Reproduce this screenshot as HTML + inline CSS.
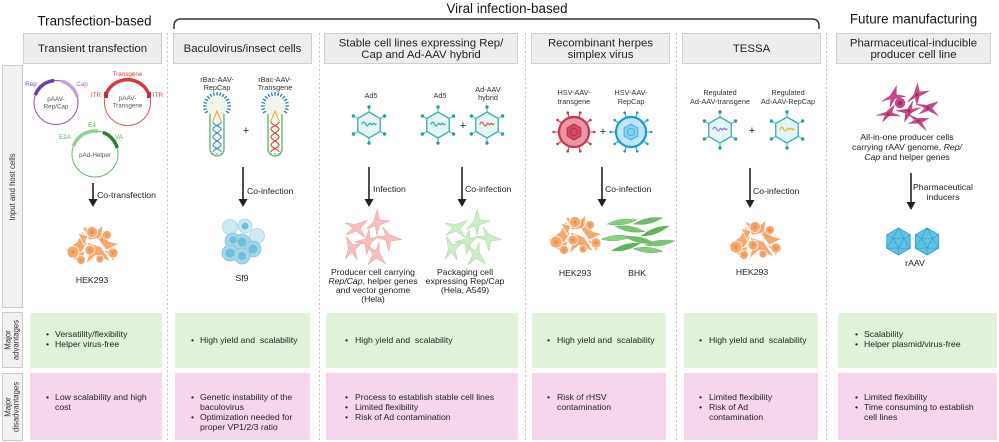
<!DOCTYPE html>
<html><head><meta charset="utf-8"><style>
html,body{margin:0;padding:0;background:#fff;}
svg{display:block;}
text{font-family:"Liberation Sans",Arial,sans-serif;fill:#222;}
.t{font-size:13.4px;fill:#151515;}
.h{font-size:11.4px;text-anchor:middle;fill:#222;}
.b{font-size:8.7px;fill:#222;}
.c{font-size:8.7px;text-anchor:middle;}
.a{font-size:8.7px;}
.v{font-size:7.3px;text-anchor:middle;fill:#333;}
.p{font-size:6.3px;text-anchor:middle;}
.r{font-size:7.8px;text-anchor:middle;fill:#333;}
.pl{font-size:11px;text-anchor:middle;fill:#222;}
</style></head><body>
<svg width="999" height="442" viewBox="0 0 999 442" xmlns="http://www.w3.org/2000/svg">
<defs>
 <g id="adhex">
  <g stroke="#3aaeae" stroke-width="1">
   <line x1="0" y1="-13" x2="0" y2="-18"/><line x1="11.26" y1="-6.5" x2="15.6" y2="-9"/>
   <line x1="11.26" y1="6.5" x2="15.6" y2="9"/><line x1="0" y1="13" x2="0" y2="18"/>
   <line x1="-11.26" y1="6.5" x2="-15.6" y2="9"/><line x1="-11.26" y1="-6.5" x2="-15.6" y2="-9"/>
  </g>
  <g fill="#2a9e9e">
   <circle cx="0" cy="-18" r="1.7"/><circle cx="15.6" cy="-9" r="1.7"/><circle cx="15.6" cy="9" r="1.7"/>
   <circle cx="0" cy="18" r="1.7"/><circle cx="-15.6" cy="9" r="1.7"/><circle cx="-15.6" cy="-9" r="1.7"/>
  </g>
  <polygon points="0,-13 11.26,-6.5 11.26,6.5 0,13 -11.26,6.5 -11.26,-6.5" fill="#e3f6f4" stroke="#3aaeae" stroke-width="1.3"/>
 </g>
 <path id="sq" d="M-7,-1 c1.2,-2.5 2.3,-2.5 3.5,0 s2.3,2.5 3.5,0 s2.3,2.5 3.5,0 s2.3,2.5 3.5,0" fill="none" stroke-width="1.3" stroke-linecap="round"/>
 <path id="fc" d="M-12,-1 L-2,-3 L8,-11 L4,-1 L12,6 L1,3 L-7,10 L-3,1 Z"/>
 <path id="sp" d="M-15,0 Q-5,-3 0,-2.6 Q5,-3 15,0 Q5,3 0,2.6 Q-5,3 -15,0 Z"/>
 <g id="hek">
  <g fill="#f5a76e" stroke="#fff" stroke-width="0.7">
   <path d="M-27,5 L-15,-3 L-9,-14 L-5,-2 L-13,11 Z"/>
   <path d="M-10,-19 L3,-13 L11,-20 L9,-7 L-3,-5 Z"/>
   <path d="M6,-6 L17,-15 L16,-4 L27,-1 L14,5 Z"/>
   <path d="M-5,-3 L9,2 L19,17 L4,10 L-6,19 L-2,6 Z"/>
   <path d="M12,5 L26,7 L21,16 Z"/>
   <path d="M-22,11 L-7,6 L-11,19 Z"/>
   <path d="M-14,-12 L-4,-9 L-8,0 Z"/>
   <circle cx="-19" cy="7" r="6"/><circle cx="0" cy="-13" r="5.5"/><circle cx="15" cy="-10" r="4.5"/>
   <circle cx="-2" cy="5" r="5"/><circle cx="21" cy="8" r="5"/><circle cx="-11" cy="15" r="4.5"/>
   <circle cx="8" cy="14" r="4"/>
  </g>
  <g fill="#ea8f55">
   <circle cx="-19" cy="7" r="2"/><circle cx="0" cy="-13" r="1.8"/><circle cx="15" cy="-10" r="1.6"/>
   <circle cx="-2" cy="5" r="1.8"/><circle cx="21" cy="8" r="1.7"/><circle cx="-11" cy="15" r="1.5"/>
   <circle cx="8" cy="14" r="1.4"/>
  </g>
 </g>
 <g id="bac">
  <rect x="-7" y="3" width="14" height="47" rx="7" fill="#f4f8ee" stroke="#59b56a" stroke-width="1.3"/>
  <g stroke="#2f80b8" stroke-width="1.3">
   <line x1="-8.66" y1="5" x2="-12.12" y2="7"/><line x1="-9.66" y1="2.59" x2="-13.52" y2="3.62"/>
   <line x1="-10" y1="0" x2="-14" y2="0"/><line x1="-9.66" y1="-2.59" x2="-13.52" y2="-3.62"/>
   <line x1="-8.66" y1="-5" x2="-12.12" y2="-7"/><line x1="-7.07" y1="-7.07" x2="-9.9" y2="-9.9"/>
   <line x1="-5" y1="-8.66" x2="-7" y2="-12.12"/><line x1="-2.59" y1="-9.66" x2="-3.62" y2="-13.52"/>
   <line x1="0" y1="-10" x2="0" y2="-14"/><line x1="2.59" y1="-9.66" x2="3.62" y2="-13.52"/>
   <line x1="5" y1="-8.66" x2="7" y2="-12.12"/><line x1="7.07" y1="-7.07" x2="9.9" y2="-9.9"/>
   <line x1="8.66" y1="-5" x2="12.12" y2="-7"/><line x1="9.66" y1="-2.59" x2="13.52" y2="-3.62"/>
   <line x1="10" y1="0" x2="14" y2="0"/><line x1="9.66" y1="2.59" x2="13.52" y2="3.62"/>
   <line x1="8.66" y1="5" x2="12.12" y2="7"/>
  </g>
  <circle cx="0" cy="0" r="10.5" fill="#f1f6e9"/>
  <path d="M-4.5,16 L0,5 L4.5,16" fill="none" stroke="#f2a33a" stroke-width="1"/>
  <path d="M-4,47 L-4,49 M0,47 L0,49 M4,47 L4,49" stroke="#3bb0b0" stroke-width="1"/>
 </g>
 <g id="hx" fill="none" stroke-width="1.1">
  <path d="M-4,16 C-4,19 4,20 4,23 S-4,28 -4,31 S4,36 4,39 S-4,43 -4,46"/>
  <path d="M4,16 C4,19 -4,20 -4,23 S4,28 4,31 S-4,36 -4,39 S4,43 4,46"/>
 </g>
 <path id="hsvsp" fill="none" stroke-width="1.1" d="M15.5,0L20,0M12.54,9.11L16.18,11.76M4.79,14.74L6.18,19.02M-4.79,14.74L-6.18,19.02M-12.54,9.11L-16.18,11.76M-15.5,0L-20,0M-12.54,-9.11L-16.18,-11.76M-4.79,-14.74L-6.18,-19.02M4.79,-14.74L6.18,-19.02M12.54,-9.11L16.18,-11.76"/>
 <g id="hsvdots">
  <circle cx="20.3" cy="0" r="1.3"/><circle cx="16.4" cy="11.9" r="1.3"/><circle cx="6.3" cy="19.3" r="1.3"/>
  <circle cx="-6.3" cy="19.3" r="1.3"/><circle cx="-16.4" cy="11.9" r="1.3"/><circle cx="-20.3" cy="0" r="1.3"/>
  <circle cx="-16.4" cy="-11.9" r="1.3"/><circle cx="-6.3" cy="-19.3" r="1.3"/><circle cx="6.3" cy="-19.3" r="1.3"/>
  <circle cx="16.4" cy="-11.9" r="1.3"/>
 </g>
 <g id="aav">
  <polygon points="0,-13.5 11.69,-6.75 11.69,6.75 0,13.5 -11.69,6.75 -11.69,-6.75" fill="#5fc2e8" stroke="#3d9fc9" stroke-width="0.9"/>
  <g fill="none" stroke="#3a93bb" stroke-width="0.6">
   <polygon points="-5.5,-3 5.5,-3 0,6.5"/>
   <path d="M-5.5,-3L0,-13.5M5.5,-3L0,-13.5M5.5,-3L11.69,-6.75M5.5,-3L11.69,6.75M0,6.5L11.69,6.75M0,6.5L0,13.5M0,6.5L-11.69,6.75M-5.5,-3L-11.69,6.75M-5.5,-3L-11.69,-6.75"/>
  </g>
 </g>
</defs>

<rect width="999" height="442" fill="#fff"/>

<!-- dashed separators -->
<g stroke="#c2c2c2" stroke-width="1" stroke-dasharray="2,2.5">
 <line x1="167.5" y1="33" x2="167.5" y2="442"/>
 <line x1="319.5" y1="33" x2="319.5" y2="442"/>
 <line x1="525.5" y1="33" x2="525.5" y2="442"/>
 <line x1="676.5" y1="33" x2="676.5" y2="442"/>
 <line x1="826.5" y1="33" x2="826.5" y2="442"/>
</g>

<!-- top titles -->
<text class="t" x="94.5" y="25.5" text-anchor="middle">Transfection-based</text>
<text class="t" x="507" y="13" text-anchor="middle">Viral infection-based</text>
<text class="t" x="913.5" y="23.5" text-anchor="middle">Future manufacturing</text>
<path d="M174,29 L174,26 Q174,19 181,19 L812,19 Q819,19 819,26 L819,29" fill="none" stroke="#333" stroke-width="1.5"/>

<!-- header boxes -->
<g fill="#ededed" stroke="#cfcfcf" stroke-width="1">
 <rect x="23.5" y="33.5" width="138" height="30"/>
 <rect x="173.5" y="33.5" width="138" height="30"/>
 <rect x="324.5" y="33.5" width="193" height="30"/>
 <rect x="531.5" y="33.5" width="138" height="30"/>
 <rect x="682.5" y="33.5" width="138" height="30"/>
 <rect x="836.5" y="33.5" width="154" height="30"/>
</g>
<text class="h" x="92.5" y="52">Transient transfection</text>
<text class="h" x="242.5" y="52">Baculovirus/insect cells</text>
<text class="h" x="421" y="46.5">Stable cell lines expressing Rep/</text>
<text class="h" x="421" y="58">Cap and Ad-AAV hybrid</text>
<text class="h" x="600.5" y="46.5">Recombinant herpes</text>
<text class="h" x="600.5" y="58">simplex virus</text>
<text class="h" x="751.5" y="52">TESSA</text>
<text class="h" x="913.5" y="46.5">Pharmaceutical-inducible</text>
<text class="h" x="913.5" y="58">producer cell line</text>

<!-- left row labels -->
<g fill="#f1f1f1" stroke="#cbcbcb" stroke-width="1">
 <rect x="2.5" y="65.5" width="20" height="242"/>
 <rect x="2.5" y="312.5" width="20" height="55"/>
 <rect x="2.5" y="373.5" width="20" height="67"/>
</g>
<text class="r" transform="translate(15,187) rotate(-90)">Input and host cells</text>
<text class="r" transform="translate(10.5,340) rotate(-90)">Major</text>
<text class="r" transform="translate(18.5,340) rotate(-90)">advantages</text>
<text class="r" transform="translate(10.5,407) rotate(-90)">Major</text>
<text class="r" transform="translate(18.5,407) rotate(-90)">disadvantages</text>

<!-- advantage / disadvantage boxes -->
<g fill="#e0f3da">
 <rect x="30" y="313" width="132" height="55"/>
 <rect x="175" y="313" width="135" height="55"/>
 <rect x="326" y="313" width="192" height="55"/>
 <rect x="532" y="313" width="134" height="55"/>
 <rect x="684" y="313" width="134" height="55"/>
 <rect x="838" y="313" width="159" height="55"/>
</g>
<g fill="#f6d6ec">
 <rect x="30" y="373" width="132" height="67"/>
 <rect x="175" y="373" width="135" height="67"/>
 <rect x="326" y="373" width="192" height="67"/>
 <rect x="532" y="373" width="134" height="67"/>
 <rect x="684" y="373" width="134" height="67"/>
 <rect x="838" y="373" width="159" height="67"/>
</g>
<g class="b">
 <text class="b" x="46" y="337">•</text><text class="b" x="55" y="337">Versatility/flexibility</text>
 <text class="b" x="46" y="347">•</text><text class="b" x="55" y="347">Helper virus-free</text>
 <text class="b" x="46" y="400">•</text><text class="b" x="55" y="400">Low scalability and high</text>
 <text class="b" x="55" y="410">cost</text>

 <text class="b" x="191" y="343">•</text><text class="b" x="200" y="343">High yield and&#160; scalability</text>
 <text class="b" x="191" y="400">•</text><text class="b" x="200" y="400">Genetic instability of the</text>
 <text class="b" x="200" y="410">baculovirus</text>
 <text class="b" x="191" y="420">•</text><text class="b" x="200" y="420">Optimization needed for</text>
 <text class="b" x="200" y="430">proper VP1/2/3 ratio</text>

 <text class="b" x="345" y="343">•</text><text class="b" x="355" y="343">High yield and&#160; scalability</text>
 <text class="b" x="345" y="400">•</text><text class="b" x="355" y="400">Process to establish stable cell lines</text>
 <text class="b" x="345" y="410">•</text><text class="b" x="355" y="410">Limited flexibility</text>
 <text class="b" x="345" y="420">•</text><text class="b" x="355" y="420">Risk of Ad contamination</text>

 <text class="b" x="547" y="343">•</text><text class="b" x="557" y="343">High yield and&#160; scalability</text>
 <text class="b" x="547" y="400">•</text><text class="b" x="557" y="400">Risk of rHSV</text>
 <text class="b" x="557" y="410">contamination</text>

 <text class="b" x="699" y="343">•</text><text class="b" x="709" y="343">High yield and&#160; scalability</text>
 <text class="b" x="699" y="400">•</text><text class="b" x="709" y="400">Limited flexibility</text>
 <text class="b" x="699" y="410">•</text><text class="b" x="709" y="410">Risk of Ad</text>
 <text class="b" x="709" y="420">contamination</text>

 <text class="b" x="855" y="337">•</text><text class="b" x="864" y="337">Scalability</text>
 <text class="b" x="855" y="347">•</text><text class="b" x="864" y="347">Helper plasmid/virus-free</text>
 <text class="b" x="855" y="400">•</text><text class="b" x="864" y="400">Limited flexibility</text>
 <text class="b" x="855" y="410">•</text><text class="b" x="864" y="410">Time consuming to establish</text>
 <text class="b" x="864" y="420">cell lines</text>
</g>

<!-- ========== Column 1: plasmids ========== -->
<circle cx="56" cy="102.5" r="22" fill="none" stroke="#8a5aa8" stroke-width="1"/>
<path d="M35.3,95 A22,22 0 0 1 54.1,80.6" fill="none" stroke="#6b3fa0" stroke-width="3.5"/>
<path d="M61.7,81.2 A22,22 0 0 1 77.2,96.8" fill="none" stroke="#c9a0dc" stroke-width="3.5"/>
<text class="p" x="31" y="86" fill="#7b4ca0" style="fill:#7b4ca0">Rep</text>
<text class="p" x="82" y="86" style="fill:#9a6ab2">Cap</text>
<text class="p" x="56" y="101" style="fill:#555">pAAV-</text>
<text class="p" x="56" y="108.5" style="fill:#555">Rep/Cap</text>

<circle cx="127.5" cy="102.5" r="23" fill="none" stroke="#d65a5a" stroke-width="1"/>
<path d="M106.7,92.8 A23,23 0 0 1 148.3,92.8" fill="none" stroke="#d43c3c" stroke-width="3.5"/>
<rect x="104" y="92" width="4" height="6" fill="#c23030"/>
<rect x="147" y="92" width="4" height="6" fill="#c23030"/>
<text class="p" x="127.5" y="76" style="fill:#d43c3c">Transgene</text>
<text class="p" x="96" y="97" style="fill:#d43c3c">ITR</text>
<text class="p" x="158" y="97" style="fill:#d43c3c">ITR</text>
<text class="p" x="127.5" y="100" style="fill:#555">pAAV-</text>
<text class="p" x="127.5" y="107.5" style="fill:#555">Transgene</text>

<circle cx="95" cy="154" r="23" fill="none" stroke="#6bb86b" stroke-width="1"/>
<path d="M73.4,146.1 A23,23 0 0 1 98,131.2" fill="none" stroke="#8fd08f" stroke-width="3.5"/>
<path d="M102.9,132.4 A23,23 0 0 1 117.2,148" fill="none" stroke="#2e7d32" stroke-width="3.5"/>
<text class="p" x="92" y="127" style="fill:#4caf50">E4</text>
<text class="p" x="65" y="139" style="fill:#4caf50">E2A</text>
<text class="p" x="119" y="139" style="fill:#4caf50">VA</text>
<text class="p" x="95" y="157" style="fill:#555">pAd-Helper</text>

<!-- arrows -->
<g stroke="#222" stroke-width="1.6">
 <line x1="93" y1="183" x2="93" y2="200"/>
 <line x1="243" y1="167" x2="243" y2="200"/>
 <line x1="369" y1="167" x2="369" y2="200"/>
 <line x1="462" y1="167" x2="462" y2="200"/>
 <line x1="602" y1="167" x2="602" y2="200"/>
 <line x1="750" y1="168" x2="750" y2="201"/>
 <line x1="911" y1="173" x2="911" y2="203"/>
</g>
<g fill="#222">
 <polygon points="88.5,199 97.5,199 93,207"/>
 <polygon points="238.5,199 247.5,199 243,207"/>
 <polygon points="364.5,199 373.5,199 369,207"/>
 <polygon points="457.5,199 466.5,199 462,207"/>
 <polygon points="597.5,199 606.5,199 602,207"/>
 <polygon points="745.5,200 754.5,200 750,208"/>
 <polygon points="906.5,202 915.5,202 911,210"/>
</g>
<text class="a" x="97" y="198">Co-transfection</text>
<text class="a" x="247" y="194">Co-infection</text>
<text class="a" x="373" y="192">Infection</text>
<text class="a" x="465" y="192">Co-infection</text>
<text class="a" x="605" y="192">Co-infection</text>
<text class="a" x="753" y="194">Co-infection</text>
<text class="a" x="913" y="190">Pharmaceutical</text>
<text class="a" x="943" y="200" text-anchor="middle">inducers</text>

<use href="#hek" x="92" y="245"/>
<text class="c" x="92" y="283">HEK293</text>

<!-- ========== Column 2: baculovirus ========== -->
<text class="v" x="217" y="82">rBac-AAV-</text>
<text class="v" x="217" y="90">RepCap</text>
<text class="v" x="275" y="82">rBac-AAV-</text>
<text class="v" x="275" y="90">Transgene</text>
<use href="#bac" x="217" y="106"/>
<use href="#hx" x="217" y="106" stroke="#3a8fc9"/>
<use href="#bac" x="275" y="106"/>
<use href="#hx" x="275" y="106" stroke="#d64545"/>
<text class="pl" x="246" y="134">+</text>

<g>
 <g fill="#cfe9f3" stroke="#a6d4e7" stroke-width="0.8">
  <circle cx="230" cy="227" r="7.5"/><circle cx="257" cy="236" r="7.5"/><circle cx="245" cy="226" r="7"/>
 </g>
 <g fill="#a4d5e8" stroke="#86c5de" stroke-width="0.8">
  <circle cx="233" cy="241" r="8"/><circle cx="242" cy="242" r="8"/><circle cx="230" cy="253" r="8"/>
  <circle cx="253" cy="249" r="8"/><circle cx="242" cy="256" r="8"/>
 </g>
 <g fill="#6fbfdb">
  <circle cx="242" cy="242" r="4.5"/><circle cx="230" cy="253" r="4.5"/><circle cx="253" cy="249" r="4.5"/>
  <circle cx="242" cy="256" r="4"/><circle cx="233" cy="240" r="3.5"/><circle cx="245" cy="226" r="3.5"/>
 </g>
</g>
<text class="c" x="242" y="281">Sf9</text>

<!-- ========== Column 3 ========== -->
<text class="v" x="371" y="98">Ad5</text>
<text class="v" x="440" y="98">Ad5</text>
<text class="v" x="488" y="92">Ad-AAV</text>
<text class="v" x="488" y="100">hybrid</text>
<use href="#adhex" x="369" y="125"/>
<use href="#sq" x="369" y="125" stroke="#3aaeae"/>
<use href="#adhex" x="438" y="125"/>
<use href="#sq" x="438" y="125" stroke="#3aaeae"/>
<use href="#adhex" x="487" y="125"/>
<use href="#sq" x="487" y="125" stroke="#e0605a"/>
<text class="pl" x="463" y="129">+</text>

<g fill="#f5b9ba" stroke="#e9a0a3" stroke-width="0.6" opacity="0.9">
 <use href="#fc" transform="translate(356,228) rotate(20)"/>
 <use href="#fc" transform="translate(377,223) rotate(-35)"/>
 <use href="#fc" transform="translate(388,238) rotate(60)"/>
 <use href="#fc" transform="translate(368,241) rotate(150)"/>
 <use href="#fc" transform="translate(352,249) rotate(-60)"/>
 <use href="#fc" transform="translate(376,254) rotate(100)"/>
</g>
<g fill="#c8e9c1" stroke="#a7d79f" stroke-width="0.6" opacity="0.9">
 <use href="#fc" transform="translate(456,228) rotate(20)"/>
 <use href="#fc" transform="translate(477,223) rotate(-35)"/>
 <use href="#fc" transform="translate(488,238) rotate(60)"/>
 <use href="#fc" transform="translate(468,241) rotate(150)"/>
 <use href="#fc" transform="translate(452,249) rotate(-60)"/>
 <use href="#fc" transform="translate(476,254) rotate(100)"/>
</g>
<text class="c" x="373" y="275">Producer cell carrying</text>
<text class="c" x="373" y="284"><tspan font-style="italic">Rep/Cap</tspan>, helper genes</text>
<text class="c" x="373" y="293">and vector genome</text>
<text class="c" x="373" y="302">(Hela)</text>
<text class="c" x="465" y="275">Packaging cell</text>
<text class="c" x="465" y="284">expressing Rep/Cap</text>
<text class="c" x="465" y="293">(Hela, A549)</text>

<!-- ========== Column 4: HSV ========== -->
<text class="v" x="574" y="95">HSV-AAV-</text>
<text class="v" x="574" y="104">transgene</text>
<text class="v" x="631" y="95">HSV-AAV-</text>
<text class="v" x="631" y="104">RepCap</text>
<g transform="translate(574,132)">
 <use href="#hsvsp" stroke="#c8324e"/>
 <use href="#hsvdots" fill="#c8324e"/>
 <circle r="15" fill="#ec95a4" stroke="#c8324e" stroke-width="2.2"/>
 <polygon points="0,-8 6.93,-4 6.93,4 0,8 -6.93,4 -6.93,-4" fill="#d84a62" stroke="#a8283f" stroke-width="0.8"/>
 <circle r="3.5" fill="none" stroke="#a8283f" stroke-width="0.8"/>
</g>
<g transform="translate(631,132)">
 <use href="#hsvsp" stroke="#1c9ad6"/>
 <use href="#hsvdots" fill="#1c9ad6"/>
 <circle r="15" fill="#bfe6f7" stroke="#1c9ad6" stroke-width="2.2"/>
 <polygon points="0,-8 6.93,-4 6.93,4 0,8 -6.93,4 -6.93,-4" fill="#86d0f0" stroke="#3aa6d8" stroke-width="0.8"/>
 <circle r="3.5" fill="none" stroke="#3aa6d8" stroke-width="0.8"/>
</g>
<text class="pl" x="603" y="135">+</text>
<use href="#hek" x="575" y="235"/>
<g stroke="#5aa856" stroke-width="0.4">
 <use href="#sp" fill="#86cc80" transform="translate(622,222) rotate(-8)"/>
 <use href="#sp" fill="#6dbf67" transform="translate(648,221) rotate(-12)"/>
 <use href="#sp" fill="#7cc576" transform="translate(630,229) rotate(10)"/>
 <use href="#sp" fill="#5fb35a" transform="translate(655,231) rotate(-20)"/>
 <use href="#sp" fill="#8fd089" transform="translate(616,238) rotate(-5)"/>
 <use href="#sp" fill="#6dbf67" transform="translate(640,240) rotate(12)"/>
 <use href="#sp" fill="#7cc576" transform="translate(660,243) rotate(-8)"/>
 <use href="#sp" fill="#5fb35a" transform="translate(626,247) rotate(-15)"/>
 <use href="#sp" fill="#86cc80" transform="translate(648,250) rotate(5)"/>
</g>
<text class="c" x="575" y="276">HEK293</text>
<text class="c" x="637" y="276">BHK</text>

<!-- ========== Column 5: TESSA ========== -->
<text class="v" x="720" y="95">Regulated</text>
<text class="v" x="720" y="104">Ad-AAV-transgene</text>
<text class="v" x="788" y="95">Regulated</text>
<text class="v" x="788" y="104">Ad-AAV-RepCap</text>
<use href="#adhex" x="720" y="130"/>
<use href="#sq" x="720" y="130" stroke="#a878d8"/>
<use href="#adhex" x="787" y="130"/>
<use href="#sq" x="787" y="130" stroke="#f0b040"/>
<text class="pl" x="752" y="134">+</text>
<use href="#hek" x="755" y="240"/>
<text class="c" x="752" y="275">HEK293</text>

<!-- ========== Column 6 ========== -->
<g fill="#c8468a" stroke="#b03a78" stroke-width="0.4">
 <use href="#fc" transform="translate(893,97) rotate(-25) scale(1,0.8)"/>
 <use href="#fc" transform="translate(917,95) rotate(-40) scale(1,0.8)"/>
 <use href="#fc" transform="translate(928,108) rotate(15) scale(1,0.8)"/>
 <use href="#fc" transform="translate(909,111) rotate(160) scale(1,0.8)"/>
 <use href="#fc" transform="translate(888,114) rotate(-10) scale(1,0.7)"/>
 <use href="#fc" transform="translate(918,121) rotate(30) scale(1,0.7)"/>
 <circle cx="900" cy="103" r="5"/>
</g>
<g fill="#9e2a63">
 <circle cx="900" cy="103" r="2.3"/><circle cx="917" cy="95" r="1.6"/><circle cx="928" cy="108" r="1.6"/>
 <circle cx="909" cy="111" r="1.6"/><circle cx="888" cy="114" r="1.5"/><circle cx="918" cy="121" r="1.5"/>
</g>
<text class="c" x="907" y="140">All-in-one producer cells</text>
<text class="c" x="907" y="150">carrying rAAV genome, <tspan font-style="italic">Rep/</tspan></text>
<text class="c" x="907" y="160"><tspan font-style="italic">Cap</tspan> and helper genes</text>
<use href="#aav" x="898.5" y="241.5"/>
<use href="#aav" x="927" y="241.5"/>
<text class="c" x="915" y="266">rAAV</text>
</svg>
</body></html>
